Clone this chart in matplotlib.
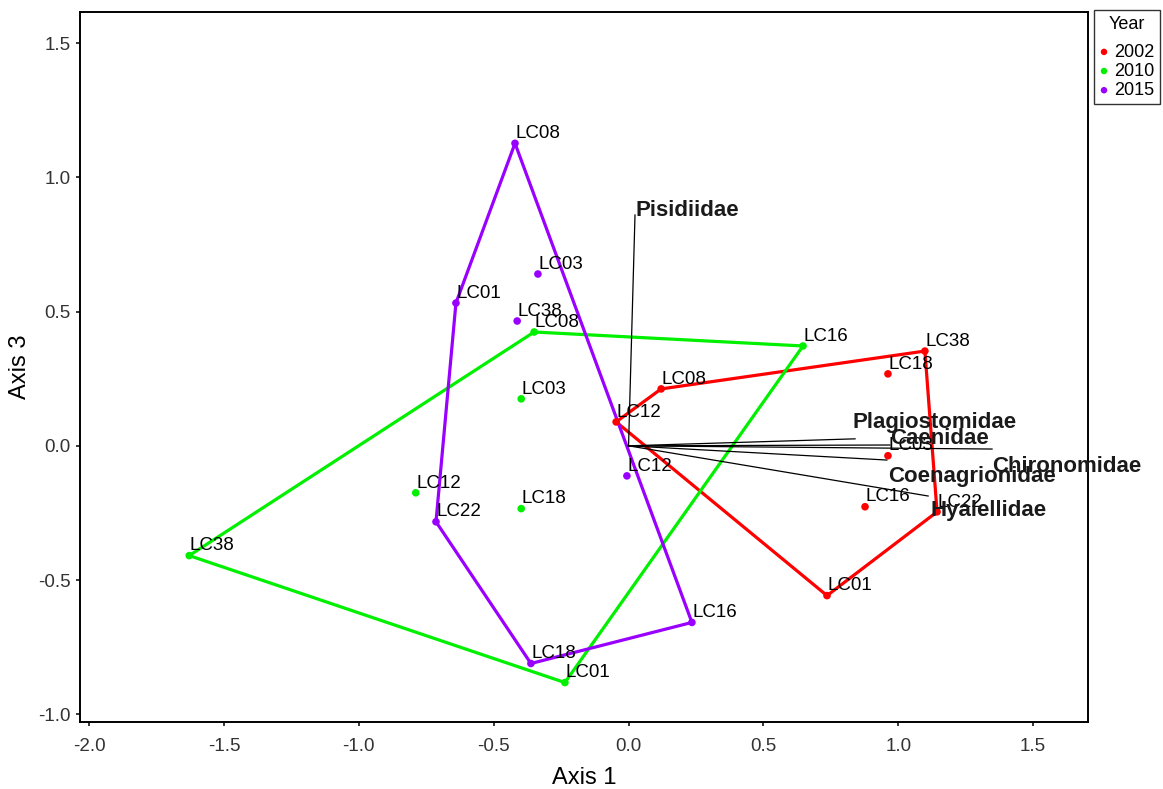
import matplotlib
matplotlib.use("Agg")
import matplotlib.pyplot as plt
import numpy as np

plt.rcParams['font.family'] = ['Liberation Sans', 'DejaVu Sans']

# site scores per year (Axis 1, Axis 3)
years = ['2002', '2010', '2015']
colors = {'2002': '#FF0000', '2010': '#00F000', '2015': '#9900FF'}

sites_2002 = ['LC12', 'LC08', 'LC38', 'LC18', 'LC03', 'LC16', 'LC22', 'LC01']
x_2002 = [-0.046, 0.121, 1.099, 0.962, 0.962, 0.877, 1.144, 0.736]
y_2002 = [0.089, 0.212, 0.353, 0.268, -0.037, -0.227, -0.246, -0.558]

sites_2010 = ['LC08', 'LC16', 'LC03', 'LC12', 'LC18', 'LC38', 'LC01']
x_2010 = [-0.350, 0.647, -0.398, -0.789, -0.398, -1.629, -0.236]
y_2010 = [0.424, 0.372, 0.175, -0.175, -0.234, -0.409, -0.882]

sites_2015 = ['LC08', 'LC03', 'LC01', 'LC38', 'LC12', 'LC22', 'LC16', 'LC18']
x_2015 = [-0.421, -0.336, -0.640, -0.413, -0.006, -0.714, 0.235, -0.362]
y_2015 = [1.127, 0.640, 0.532, 0.465, -0.112, -0.283, -0.658, -0.811]

# species vectors and where their names sit
species = ['Pisidiidae', 'Plagiostomidae', 'Caenidae', 'Chironomidae',
           'Coenagrionidae', 'Hyalellidae']
sp_x = [0.024, 0.840, 0.969, 1.348, 0.958, 1.111]
sp_y = [0.860, 0.026, 0.003, -0.012, -0.053, -0.187]
lab_x = [0.024, 0.832, 0.969, 1.348, 0.962, 1.118]
lab_y = [0.857, 0.067, 0.007, -0.097, -0.135, -0.261]

data = {
    '2002': (sites_2002, x_2002, y_2002),
    '2010': (sites_2010, x_2010, y_2010),
    '2015': (sites_2015, x_2015, y_2015),
}


def hull(px, py):
    pts = sorted(zip(px, py))

    def cross(o, a, b):
        return (a[0] - o[0]) * (b[1] - o[1]) - (a[1] - o[1]) * (b[0] - o[0])

    lower, upper = [], []
    for p in pts:
        while len(lower) >= 2 and cross(lower[-2], lower[-1], p) <= 0:
            lower.pop()
        lower.append(p)
    for p in reversed(pts):
        while len(upper) >= 2 and cross(upper[-2], upper[-1], p) <= 0:
            upper.pop()
        upper.append(p)
    h = lower[:-1] + upper[:-1]
    h.append(h[0])
    return np.array(h)


fig = plt.figure(figsize=(11.63, 7.89), dpi=100)
ax = fig.add_axes([0.0688, 0.0849, 0.8663, 0.9005])

for yr in years:
    names, xs, ys = data[yr]
    h = hull(xs, ys)
    ax.plot(h[:, 0], h[:, 1], color=colors[yr], lw=2.3, zorder=2)
    ax.scatter(xs, ys, s=30, color=colors[yr], zorder=3, label=yr,
               edgecolors='none')
    for n, xv, yv in zip(names, xs, ys):
        ax.annotate(n, (xv, yv), xytext=(0.5, 3.8), textcoords='offset points',
                    ha='left', va='baseline', fontsize=13.5, zorder=4)

for n, xv, yv, tx, ty in zip(species, sp_x, sp_y, lab_x, lab_y):
    ax.plot([0, xv], [0, yv], color='black', lw=0.9, zorder=2)
    ax.text(tx, ty, n, ha='left', va='baseline',
            fontsize=16, fontweight='bold', color='#1a1a1a', zorder=4)

ax.set_xlim(-2.034, 1.702)
ax.set_ylim(-1.029, 1.618)
ax.set_xticks(np.arange(-2.0, 1.51, 0.5))
ax.set_yticks(np.arange(-1.0, 1.51, 0.5))
ax.xaxis.set_major_formatter(matplotlib.ticker.FormatStrFormatter('%.1f'))
ax.yaxis.set_major_formatter(matplotlib.ticker.FormatStrFormatter('%.1f'))
ax.tick_params(labelsize=13.5, direction='out', length=3.2, width=1.1,
               colors='black', labelcolor='#333333')
ax.tick_params(axis='x', pad=8)
ax.tick_params(axis='y', pad=3.5)
for sp in ax.spines.values():
    sp.set_linewidth(1.4)
ax.set_xlabel('Axis 1', fontsize=17, labelpad=9)
ax.set_ylabel('Axis 3', fontsize=17, labelpad=5)

leg = ax.legend(title='Year', loc='upper left', bbox_to_anchor=(1.0065, 1.002),
                borderaxespad=0, frameon=True, fancybox=False,
                edgecolor='black', fontsize=13, title_fontsize=13,
                handletextpad=0.3, handlelength=0.5, markerscale=0.85,
                borderpad=0.3, labelspacing=0.12)
leg.get_frame().set_linewidth(1.0)
leg._legend_box.sep = 8

fig.savefig('out.png', dpi=100)
